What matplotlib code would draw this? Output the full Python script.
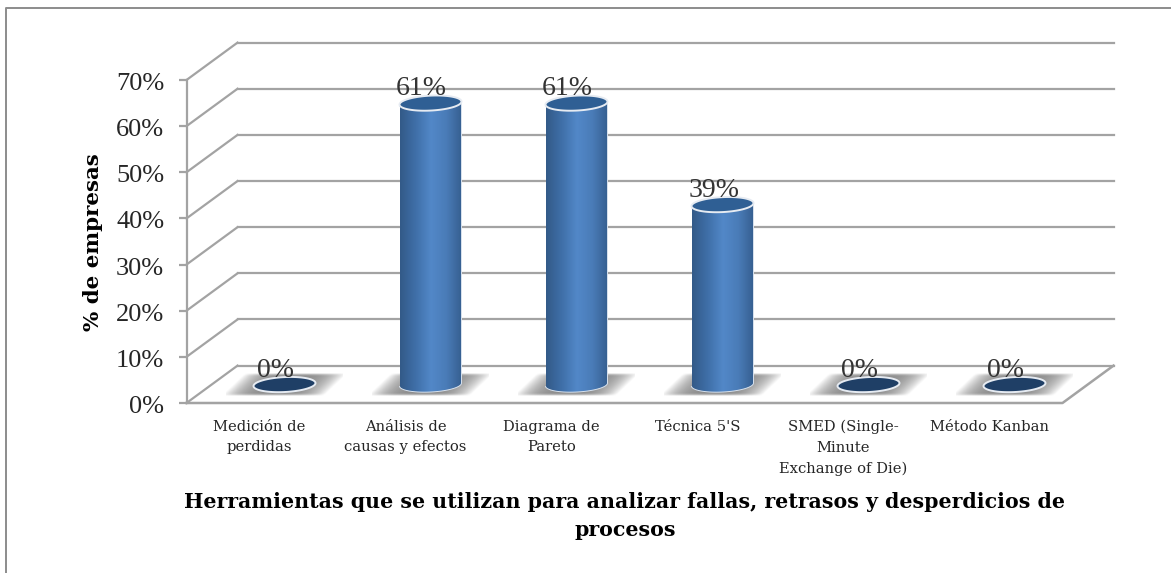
import numpy as np
import matplotlib
matplotlib.use("Agg")
import matplotlib.pyplot as plt
from matplotlib.lines import Line2D
from matplotlib.patches import PathPatch, Polygon
from matplotlib.path import Path
from matplotlib.colors import LinearSegmentedColormap
from matplotlib.transforms import ScaledTranslation

# Data
categories = ["Medición de\nperdidas", "Análisis de\ncausas y efectos", "Diagrama de\nPareto",
              "Técnica 5'S", "SMED (Single-\nMinute\nExchange of Die)", "Método Kanban"]
values = [0, 61, 61, 39, 0, 0]
y_ticks = [0, 10, 20, 30, 40, 50, 60, 70]

W, H = 1171, 573
SERIF = "Liberation Serif"
SLAB = "DejaVu Serif"
GRID = "#a3a3a3"

# depth of the 3d box in data units
depth_x = 51 / 146
depth_y = 37.5 / 4.63
bar_shift = 25 / 146
bar_base = 18.5 / 4.63
bar_w = 62 / 146
cap_h = 15 / 4.63
tilt = 1.5 / 4.63


def ellipse_xy(x, y, t):
    # slightly tilted ellipse, right side higher
    return x + bar_w / 2 * np.cos(t), y + cap_h / 2 * np.sin(t) + tilt * np.cos(t)


def cylinder_path(x, base, top):
    # body outline: down the left side, round the bottom, up the right, round the top
    x1, y1 = ellipse_xy(x, base, np.linspace(np.pi, 2 * np.pi, 40))
    x2, y2 = ellipse_xy(x, top, np.linspace(0, np.pi, 40))
    return Path(np.c_[np.r_[x1, x2], np.r_[y1, y2]])


fig = plt.figure(figsize=(W / 100, H / 100), dpi=100)
fig.add_artist(Line2D([6 / W, 6 / W, 1], [0, 1 - 8 / H, 1 - 8 / H], transform=fig.transFigure,
                      color="#8c8c8c", lw=1.4))

ax = fig.add_axes([186.5 / W, (H - 403) / H, 876 / W, 323 / H])
ax.set_facecolor("none")

# walls and gridlines
for v in y_ticks:
    ax.plot([0, depth_x], [v, v + depth_y], color=GRID, lw=1.6, clip_on=False, zorder=1)
    ax.plot([depth_x, 6 + depth_x], [v + depth_y] * 2, color=GRID, lw=1.6, clip_on=False, zorder=1)
ax.plot([0, 6, 6 + depth_x], [0, 0, depth_y], color=GRID, lw=1.8, clip_on=False, zorder=1)

cmap = LinearSegmentedColormap.from_list("cyl", ["#335a88", "#3f6fa8", "#5288c8", "#4a7cb8", "#365f90"])
grad = np.linspace(0, 1, 128).reshape(1, -1)

# soft floor shadow, sheared so the top leans right
xx, yy = np.meshgrid(np.linspace(-1, 1, 128), np.linspace(-1, 1, 32))
u = xx + yy * 0.2
shadow = np.zeros((32, 128, 4))
shadow[..., :3] = 0.55
shadow[..., 3] = np.clip(1 - np.abs(u / 0.88) ** 3, 0, 1) * np.clip(1.1 - yy ** 8, 0, 1)

for i, v in enumerate(values):
    x = i + 0.5 + bar_shift
    ax.imshow(shadow, extent=[x - 0.4, x + 0.4, bar_base - 2.5, bar_base + 2.4], aspect="auto",
              zorder=2, clip_on=False, interpolation="bilinear")
    if v > 0:
        im = ax.imshow(grad, cmap=cmap, extent=[x - bar_w / 2, x + bar_w / 2, bar_base - cap_h, v + bar_base],
                       aspect="auto", zorder=3, interpolation="bilinear")
        body = PathPatch(cylinder_path(x, bar_base, v + bar_base - 0.5), transform=ax.transData,
                         fc="none", ec="#d8e2ee", lw=0.7, zorder=4, clip_on=False)
        ax.add_patch(body)
        im.set_clip_path(body)
        cap_col = "#2f5f94"
    else:
        cap_col = "#1f3f66"
    cap = np.c_[ellipse_xy(x, v + bar_base, np.linspace(0, 2 * np.pi, 80))]
    ax.add_patch(Polygon(cap, closed=True, fc=cap_col, ec="#e6ebf2", lw=1.4, zorder=5, clip_on=False))
    ax.text(x - 0.06, v + bar_base + 1.7, f"{v}%", ha="center", va="baseline", fontsize=20,
            family=SERIF, color="#333333", zorder=6)

ax.set_xlim(0, 6)
ax.set_ylim(0, 70)
ax.set_xticks(np.arange(6) + 0.5, categories, family=SLAB, fontsize=10.6, color="#262626", linespacing=1.62, va="top")
ax.set_yticks(y_ticks, [f"{v}%" for v in y_ticks], family=SERIF, fontsize=19, color="#262626")
ax.tick_params(axis="x", length=0, pad=12)
ax.tick_params(axis="y", length=6, width=1.6, color=GRID, pad=10)
# y labels sit a little below their ticks
for lab in ax.get_yticklabels():
    lab.set_transform(lab.get_transform() + ScaledTranslation(0, -1.5 / 100, fig.dpi_scale_trans))
for s in ["top", "right", "bottom"]:
    ax.spines[s].set_visible(False)
ax.spines["left"].set_color(GRID)
ax.spines["left"].set_linewidth(1.6)

fig.text(93 / W, 1 - 242 / H, "% de empresas", rotation=90, ha="center", va="center",
         family=SLAB, fontsize=15.4, fontweight="bold", color="black")
fig.text(625 / W, 1 - 516 / H, "Herramientas que se utilizan para analizar fallas, retrasos y desperdicios de\nprocesos",
         ha="center", va="center", family=SLAB, fontsize=14.8, fontweight="bold", color="black", linespacing=1.55)

fig.savefig("out.png", dpi=100)
